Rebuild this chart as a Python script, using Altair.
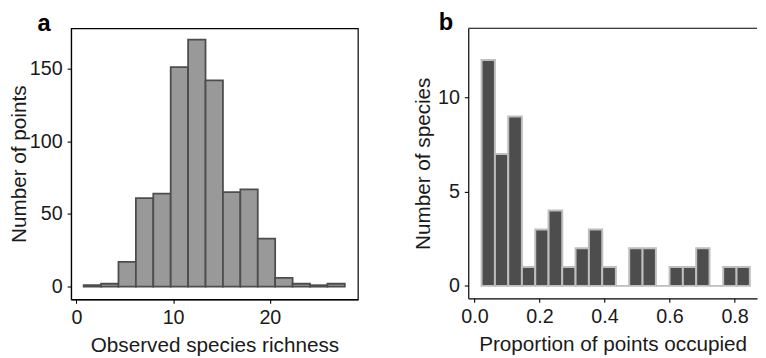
import altair as alt
import pandas as pd

FONT = "Arial, Liberation Sans, Helvetica, sans-serif"

# Panel a: observed species richness histogram
rich_bin_start = [0.75, 2.55, 4.35, 6.15, 7.95, 9.75, 11.55, 13.35, 15.15, 16.95, 18.75, 20.55, 22.35, 24.15, 25.95]
rich_bin_end = [2.55, 4.35, 6.15, 7.95, 9.75, 11.55, 13.35, 15.15, 16.95, 18.75, 20.55, 22.35, 24.15, 25.95, 27.75]
rich_counts = [1, 2, 17, 61, 64, 151, 170, 142, 65, 67, 33, 6, 2, 1, 2]

# Panel b: proportion of points occupied histogram
occ_bin_start = [0.022, 0.063, 0.104, 0.146, 0.187, 0.228, 0.270, 0.311, 0.352, 0.393,
                 0.435, 0.476, 0.517, 0.558, 0.600, 0.641, 0.682, 0.723, 0.765, 0.806]
occ_bin_end = [0.063, 0.104, 0.146, 0.187, 0.228, 0.270, 0.311, 0.352, 0.393, 0.435,
               0.476, 0.517, 0.558, 0.600, 0.641, 0.682, 0.723, 0.765, 0.806, 0.847]
occ_counts = [12, 7, 9, 1, 3, 4, 1, 2, 3, 1, 0, 2, 2, 0, 1, 1, 2, 0, 1, 1]

a_ticks_x = [0, 10, 20]
a_ticks_y = [0, 50, 100, 150]
b_ticks_x = [0.0, 0.2, 0.4, 0.6, 0.8]
b_ticks_y = [0, 5, 10]

df_a = pd.DataFrame({"start": rich_bin_start, "end": rich_bin_end, "count": rich_counts})
df_b = pd.DataFrame({"start": occ_bin_start, "end": occ_bin_end, "count": occ_counts})

WA, HA = 291, 275
WB, HB = 293, 274

panel_a = alt.Chart(df_a).mark_rect(
    fill="#999999", stroke="#4d4d4d", strokeWidth=1.8
).encode(
    x=alt.X("start:Q",
            scale=alt.Scale(domain=[-0.55, 29.1], nice=False, zero=False),
            axis=alt.Axis(values=a_ticks_x, format="d", title="Observed species richness")),
    x2="end:Q",
    y=alt.Y("count:Q",
            scale=alt.Scale(domain=[-8.7, 177.8], nice=False, zero=False),
            axis=alt.Axis(values=a_ticks_y, format="d", title="Number of points", titlePadding=0)),
    y2=alt.datum(0),
).properties(
    width=WA, height=HA,
    view=alt.ViewBackground(stroke="black", strokeWidth=1.2),
    title=alt.TitleParams("a", anchor="start", frame="group", dx=-34, offset=-7.5, baseline="top"),
)

bars_b = alt.Chart(df_b).mark_rect(
    fill="#4d4d4d", stroke="#bebebe", strokeWidth=2
).encode(
    x=alt.X("start:Q",
            scale=alt.Scale(domain=[-0.019, 0.869], nice=False, zero=False),
            axis=alt.Axis(values=b_ticks_x, format=".1f", title="Proportion of points occupied")),
    x2="end:Q",
    y=alt.Y("count:Q",
            scale=alt.Scale(domain=[-0.66, 13.68], nice=False, zero=False),
            axis=alt.Axis(values=b_ticks_y, format="d", title="Number of species", titlePadding=4)),
    y2=alt.datum(0),
)

top_b = alt.Chart(pd.DataFrame({"k": [0]})).mark_rule(
    color="black", strokeWidth=1.2
).encode(x=alt.value(0), x2=alt.value(WB), y=alt.value(0))

panel_b = alt.layer(bars_b, top_b).properties(
    width=WB, height=HB,
    view=alt.ViewBackground(strokeOpacity=0),
    title=alt.TitleParams("b", anchor="start", frame="group", dx=-30, offset=-7.5, baseline="top"),
)

chart = alt.hconcat(panel_a, panel_b, spacing=54).configure_axis(
    labelFont=FONT, labelFontSize=20, labelColor="#1a1a1a",
    titleFont=FONT, titleFontSize=21, titleFontWeight="normal", titleColor="#1a1a1a",
    grid=False, domainColor="black", domainWidth=1.2,
    tickColor="black", tickWidth=1.1, tickSize=4, labelPadding=5, titlePadding=2,
).configure_axisX(titlePadding=7).configure_title(
    font=FONT, fontSize=24, fontWeight="bold", color="black"
).properties(padding={"left": 0, "top": 0, "right": 0, "bottom": 0})

chart.save("out.html", embed_options={"renderer": "svg", "actions": False})
